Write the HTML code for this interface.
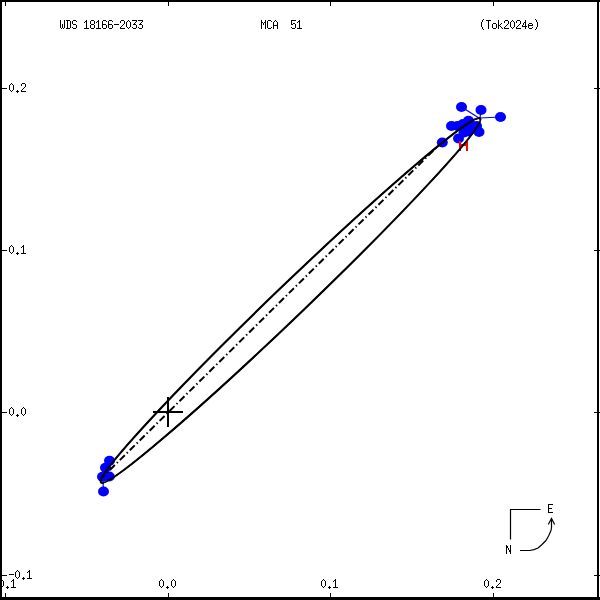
<!DOCTYPE html>
<html><head><meta charset="utf-8">
<style>
html,body{margin:0;padding:0;background:#fff;}
body{width:600px;height:600px;overflow:hidden;}
svg{display:block;}
</style></head><body>
<svg width="600" height="600" viewBox="0 0 600 600">
<rect x="0" y="0" width="600" height="600" fill="#fff"/>
<path fill="#000" shape-rendering="crispEdges" d="M0 0h600v2h-600z M0 0h2v600h-2z M597 0h2v600h-2z M0 597h600v3h-600z"/>
<path fill="#000" shape-rendering="crispEdges" d="M2 88h5v1h-5zM594 88h6v1h-6zM2 250h5v1h-5zM594 250h6v1h-6zM2 412h5v1h-5zM594 412h6v1h-6zM2 575h5v1h-5zM594 575h6v1h-6zM5 2h1v4h-1zM5 593h1v4h-1zM168 2h1v4h-1zM168 593h1v4h-1zM330 2h1v4h-1zM330 593h1v4h-1zM493 2h1v4h-1zM493 593h1v4h-1z"/>
<path fill="#000" shape-rendering="crispEdges" d="M60 20h1v1h-1zM64 20h1v1h-1zM60 21h1v1h-1zM64 21h1v1h-1zM60 22h1v1h-1zM64 22h1v1h-1zM60 23h1v1h-1zM64 23h1v1h-1zM60 24h1v1h-1zM62 24h1v1h-1zM64 24h1v1h-1zM60 25h1v1h-1zM62 25h1v1h-1zM64 25h1v1h-1zM60 26h1v1h-1zM62 26h1v1h-1zM64 26h1v1h-1zM60 27h1v1h-1zM62 27h1v1h-1zM64 27h1v1h-1zM61 28h1v1h-1zM63 28h1v1h-1zM66 20h4v1h-4zM67 21h1v1h-1zM70 21h1v1h-1zM67 22h1v1h-1zM70 22h1v1h-1zM67 23h1v1h-1zM70 23h1v1h-1zM67 24h1v1h-1zM70 24h1v1h-1zM67 25h1v1h-1zM70 25h1v1h-1zM67 26h1v1h-1zM70 26h1v1h-1zM67 27h1v1h-1zM70 27h1v1h-1zM66 28h4v1h-4zM73 20h3v1h-3zM72 21h1v1h-1zM76 21h1v1h-1zM72 22h1v1h-1zM72 23h1v1h-1zM73 24h3v1h-3zM76 25h1v1h-1zM76 26h1v1h-1zM72 27h1v1h-1zM76 27h1v1h-1zM73 28h3v1h-3zM86 20h1v1h-1zM85 21h2v1h-2zM84 22h1v1h-1zM86 22h1v1h-1zM86 23h1v1h-1zM86 24h1v1h-1zM86 25h1v1h-1zM86 26h1v1h-1zM86 27h1v1h-1zM84 28h5v1h-5zM91 20h3v1h-3zM90 21h1v1h-1zM94 21h1v1h-1zM90 22h1v1h-1zM94 22h1v1h-1zM90 23h1v1h-1zM94 23h1v1h-1zM91 24h3v1h-3zM90 25h1v1h-1zM94 25h1v1h-1zM90 26h1v1h-1zM94 26h1v1h-1zM90 27h1v1h-1zM94 27h1v1h-1zM91 28h3v1h-3zM98 20h1v1h-1zM97 21h2v1h-2zM96 22h1v1h-1zM98 22h1v1h-1zM98 23h1v1h-1zM98 24h1v1h-1zM98 25h1v1h-1zM98 26h1v1h-1zM98 27h1v1h-1zM96 28h5v1h-5zM103 20h3v1h-3zM102 21h1v1h-1zM106 21h1v1h-1zM102 22h1v1h-1zM102 23h1v1h-1zM102 24h4v1h-4zM102 25h1v1h-1zM106 25h1v1h-1zM102 26h1v1h-1zM106 26h1v1h-1zM102 27h1v1h-1zM106 27h1v1h-1zM103 28h3v1h-3zM109 20h3v1h-3zM108 21h1v1h-1zM112 21h1v1h-1zM108 22h1v1h-1zM108 23h1v1h-1zM108 24h4v1h-4zM108 25h1v1h-1zM112 25h1v1h-1zM108 26h1v1h-1zM112 26h1v1h-1zM108 27h1v1h-1zM112 27h1v1h-1zM109 28h3v1h-3zM114 24h5v1h-5zM121 20h3v1h-3zM120 21h1v1h-1zM124 21h1v1h-1zM120 22h1v1h-1zM124 22h1v1h-1zM124 23h1v1h-1zM123 24h1v1h-1zM122 25h1v1h-1zM121 26h1v1h-1zM120 27h1v1h-1zM120 28h5v1h-5zM128 20h1v1h-1zM127 21h1v1h-1zM129 21h1v1h-1zM126 22h1v1h-1zM130 22h1v1h-1zM126 23h1v1h-1zM130 23h1v1h-1zM126 24h1v1h-1zM130 24h1v1h-1zM126 25h1v1h-1zM130 25h1v1h-1zM126 26h1v1h-1zM130 26h1v1h-1zM127 27h1v1h-1zM129 27h1v1h-1zM128 28h1v1h-1zM132 20h5v1h-5zM136 21h1v1h-1zM135 22h1v1h-1zM134 23h1v1h-1zM133 24h3v1h-3zM136 25h1v1h-1zM136 26h1v1h-1zM132 27h1v1h-1zM136 27h1v1h-1zM133 28h3v1h-3zM138 20h5v1h-5zM142 21h1v1h-1zM141 22h1v1h-1zM140 23h1v1h-1zM139 24h3v1h-3zM142 25h1v1h-1zM142 26h1v1h-1zM138 27h1v1h-1zM142 27h1v1h-1zM139 28h3v1h-3zM261 20h1v1h-1zM265 20h1v1h-1zM261 21h1v1h-1zM265 21h1v1h-1zM261 22h2v1h-2zM264 22h2v1h-2zM261 23h1v1h-1zM263 23h1v1h-1zM265 23h1v1h-1zM261 24h1v1h-1zM263 24h1v1h-1zM265 24h1v1h-1zM261 25h1v1h-1zM265 25h1v1h-1zM261 26h1v1h-1zM265 26h1v1h-1zM261 27h1v1h-1zM265 27h1v1h-1zM261 28h1v1h-1zM265 28h1v1h-1zM268 20h3v1h-3zM267 21h1v1h-1zM271 21h1v1h-1zM267 22h1v1h-1zM267 23h1v1h-1zM267 24h1v1h-1zM267 25h1v1h-1zM267 26h1v1h-1zM267 27h1v1h-1zM271 27h1v1h-1zM268 28h3v1h-3zM275 20h1v1h-1zM274 21h1v1h-1zM276 21h1v1h-1zM273 22h1v1h-1zM277 22h1v1h-1zM273 23h1v1h-1zM277 23h1v1h-1zM273 24h1v1h-1zM277 24h1v1h-1zM273 25h5v1h-5zM273 26h1v1h-1zM277 26h1v1h-1zM273 27h1v1h-1zM277 27h1v1h-1zM273 28h1v1h-1zM277 28h1v1h-1zM291 20h5v1h-5zM291 21h1v1h-1zM291 22h1v1h-1zM291 23h1v1h-1zM293 23h2v1h-2zM291 24h2v1h-2zM295 24h1v1h-1zM295 25h1v1h-1zM295 26h1v1h-1zM291 27h1v1h-1zM295 27h1v1h-1zM292 28h3v1h-3zM299 20h1v1h-1zM298 21h2v1h-2zM297 22h1v1h-1zM299 22h1v1h-1zM299 23h1v1h-1zM299 24h1v1h-1zM299 25h1v1h-1zM299 26h1v1h-1zM299 27h1v1h-1zM297 28h5v1h-5zM483 19h1v1h-1zM482 20h1v1h-1zM482 21h1v1h-1zM481 22h1v1h-1zM481 23h1v1h-1zM481 24h1v1h-1zM481 25h1v1h-1zM481 26h1v1h-1zM482 27h1v1h-1zM482 28h1v1h-1zM483 29h1v1h-1zM486 20h5v1h-5zM488 21h1v1h-1zM488 22h1v1h-1zM488 23h1v1h-1zM488 24h1v1h-1zM488 25h1v1h-1zM488 26h1v1h-1zM488 27h1v1h-1zM488 28h1v1h-1zM493 23h3v1h-3zM492 24h1v1h-1zM496 24h1v1h-1zM492 25h1v1h-1zM496 25h1v1h-1zM492 26h1v1h-1zM496 26h1v1h-1zM492 27h1v1h-1zM496 27h1v1h-1zM493 28h3v1h-3zM498 20h1v1h-1zM498 21h1v1h-1zM498 22h1v1h-1zM498 23h1v1h-1zM501 23h1v1h-1zM498 24h1v1h-1zM500 24h1v1h-1zM498 25h2v1h-2zM498 26h1v1h-1zM500 26h1v1h-1zM498 27h1v1h-1zM501 27h1v1h-1zM498 28h1v1h-1zM502 28h1v1h-1zM505 20h3v1h-3zM504 21h1v1h-1zM508 21h1v1h-1zM504 22h1v1h-1zM508 22h1v1h-1zM508 23h1v1h-1zM507 24h1v1h-1zM506 25h1v1h-1zM505 26h1v1h-1zM504 27h1v1h-1zM504 28h5v1h-5zM512 20h1v1h-1zM511 21h1v1h-1zM513 21h1v1h-1zM510 22h1v1h-1zM514 22h1v1h-1zM510 23h1v1h-1zM514 23h1v1h-1zM510 24h1v1h-1zM514 24h1v1h-1zM510 25h1v1h-1zM514 25h1v1h-1zM510 26h1v1h-1zM514 26h1v1h-1zM511 27h1v1h-1zM513 27h1v1h-1zM512 28h1v1h-1zM517 20h3v1h-3zM516 21h1v1h-1zM520 21h1v1h-1zM516 22h1v1h-1zM520 22h1v1h-1zM520 23h1v1h-1zM519 24h1v1h-1zM518 25h1v1h-1zM517 26h1v1h-1zM516 27h1v1h-1zM516 28h5v1h-5zM525 20h1v1h-1zM525 21h1v1h-1zM524 22h2v1h-2zM523 23h1v1h-1zM525 23h1v1h-1zM523 24h1v1h-1zM525 24h1v1h-1zM522 25h1v1h-1zM525 25h1v1h-1zM522 26h5v1h-5zM525 27h1v1h-1zM525 28h1v1h-1zM529 23h3v1h-3zM528 24h1v1h-1zM532 24h1v1h-1zM528 25h5v1h-5zM528 26h1v1h-1zM528 27h1v1h-1zM532 27h1v1h-1zM529 28h3v1h-3zM535 19h1v1h-1zM536 20h1v1h-1zM536 21h1v1h-1zM537 22h1v1h-1zM537 23h1v1h-1zM537 24h1v1h-1zM537 25h1v1h-1zM537 26h1v1h-1zM536 27h1v1h-1zM536 28h1v1h-1zM535 29h1v1h-1zM11 83h1v1h-1zM10 84h1v1h-1zM12 84h1v1h-1zM9 85h1v1h-1zM13 85h1v1h-1zM9 86h1v1h-1zM13 86h1v1h-1zM9 87h1v1h-1zM13 87h1v1h-1zM9 88h1v1h-1zM13 88h1v1h-1zM9 89h1v1h-1zM13 89h1v1h-1zM10 90h1v1h-1zM12 90h1v1h-1zM11 91h1v1h-1zM17 90h1v1h-1zM16 91h3v1h-3zM17 92h1v1h-1zM22 83h3v1h-3zM21 84h1v1h-1zM25 84h1v1h-1zM21 85h1v1h-1zM25 85h1v1h-1zM25 86h1v1h-1zM24 87h1v1h-1zM23 88h1v1h-1zM22 89h1v1h-1zM21 90h1v1h-1zM21 91h5v1h-5zM11 245h1v1h-1zM10 246h1v1h-1zM12 246h1v1h-1zM9 247h1v1h-1zM13 247h1v1h-1zM9 248h1v1h-1zM13 248h1v1h-1zM9 249h1v1h-1zM13 249h1v1h-1zM9 250h1v1h-1zM13 250h1v1h-1zM9 251h1v1h-1zM13 251h1v1h-1zM10 252h1v1h-1zM12 252h1v1h-1zM11 253h1v1h-1zM17 252h1v1h-1zM16 253h3v1h-3zM17 254h1v1h-1zM23 245h1v1h-1zM22 246h2v1h-2zM21 247h1v1h-1zM23 247h1v1h-1zM23 248h1v1h-1zM23 249h1v1h-1zM23 250h1v1h-1zM23 251h1v1h-1zM23 252h1v1h-1zM21 253h5v1h-5zM11 407h1v1h-1zM10 408h1v1h-1zM12 408h1v1h-1zM9 409h1v1h-1zM13 409h1v1h-1zM9 410h1v1h-1zM13 410h1v1h-1zM9 411h1v1h-1zM13 411h1v1h-1zM9 412h1v1h-1zM13 412h1v1h-1zM9 413h1v1h-1zM13 413h1v1h-1zM10 414h1v1h-1zM12 414h1v1h-1zM11 415h1v1h-1zM17 414h1v1h-1zM16 415h3v1h-3zM17 416h1v1h-1zM23 407h1v1h-1zM22 408h1v1h-1zM24 408h1v1h-1zM21 409h1v1h-1zM25 409h1v1h-1zM21 410h1v1h-1zM25 410h1v1h-1zM21 411h1v1h-1zM25 411h1v1h-1zM21 412h1v1h-1zM25 412h1v1h-1zM21 413h1v1h-1zM25 413h1v1h-1zM22 414h1v1h-1zM24 414h1v1h-1zM23 415h1v1h-1zM9 574h5v1h-5zM17 570h1v1h-1zM16 571h1v1h-1zM18 571h1v1h-1zM15 572h1v1h-1zM19 572h1v1h-1zM15 573h1v1h-1zM19 573h1v1h-1zM15 574h1v1h-1zM19 574h1v1h-1zM15 575h1v1h-1zM19 575h1v1h-1zM15 576h1v1h-1zM19 576h1v1h-1zM16 577h1v1h-1zM18 577h1v1h-1zM17 578h1v1h-1zM23 577h1v1h-1zM22 578h3v1h-3zM23 579h1v1h-1zM29 570h1v1h-1zM28 571h2v1h-2zM27 572h1v1h-1zM29 572h1v1h-1zM29 573h1v1h-1zM29 574h1v1h-1zM29 575h1v1h-1zM29 576h1v1h-1zM29 577h1v1h-1zM27 578h5v1h-5zM-7 583h5v1h-5zM1 579h1v1h-1zM0 580h1v1h-1zM2 580h1v1h-1zM-1 581h1v1h-1zM3 581h1v1h-1zM-1 582h1v1h-1zM3 582h1v1h-1zM-1 583h1v1h-1zM3 583h1v1h-1zM-1 584h1v1h-1zM3 584h1v1h-1zM-1 585h1v1h-1zM3 585h1v1h-1zM0 586h1v1h-1zM2 586h1v1h-1zM1 587h1v1h-1zM7 586h1v1h-1zM6 587h3v1h-3zM7 588h1v1h-1zM13 579h1v1h-1zM12 580h2v1h-2zM11 581h1v1h-1zM13 581h1v1h-1zM13 582h1v1h-1zM13 583h1v1h-1zM13 584h1v1h-1zM13 585h1v1h-1zM13 586h1v1h-1zM11 587h5v1h-5zM161 579h1v1h-1zM160 580h1v1h-1zM162 580h1v1h-1zM159 581h1v1h-1zM163 581h1v1h-1zM159 582h1v1h-1zM163 582h1v1h-1zM159 583h1v1h-1zM163 583h1v1h-1zM159 584h1v1h-1zM163 584h1v1h-1zM159 585h1v1h-1zM163 585h1v1h-1zM160 586h1v1h-1zM162 586h1v1h-1zM161 587h1v1h-1zM167 586h1v1h-1zM166 587h3v1h-3zM167 588h1v1h-1zM173 579h1v1h-1zM172 580h1v1h-1zM174 580h1v1h-1zM171 581h1v1h-1zM175 581h1v1h-1zM171 582h1v1h-1zM175 582h1v1h-1zM171 583h1v1h-1zM175 583h1v1h-1zM171 584h1v1h-1zM175 584h1v1h-1zM171 585h1v1h-1zM175 585h1v1h-1zM172 586h1v1h-1zM174 586h1v1h-1zM173 587h1v1h-1zM323 579h1v1h-1zM322 580h1v1h-1zM324 580h1v1h-1zM321 581h1v1h-1zM325 581h1v1h-1zM321 582h1v1h-1zM325 582h1v1h-1zM321 583h1v1h-1zM325 583h1v1h-1zM321 584h1v1h-1zM325 584h1v1h-1zM321 585h1v1h-1zM325 585h1v1h-1zM322 586h1v1h-1zM324 586h1v1h-1zM323 587h1v1h-1zM329 586h1v1h-1zM328 587h3v1h-3zM329 588h1v1h-1zM335 579h1v1h-1zM334 580h2v1h-2zM333 581h1v1h-1zM335 581h1v1h-1zM335 582h1v1h-1zM335 583h1v1h-1zM335 584h1v1h-1zM335 585h1v1h-1zM335 586h1v1h-1zM333 587h5v1h-5zM486 579h1v1h-1zM485 580h1v1h-1zM487 580h1v1h-1zM484 581h1v1h-1zM488 581h1v1h-1zM484 582h1v1h-1zM488 582h1v1h-1zM484 583h1v1h-1zM488 583h1v1h-1zM484 584h1v1h-1zM488 584h1v1h-1zM484 585h1v1h-1zM488 585h1v1h-1zM485 586h1v1h-1zM487 586h1v1h-1zM486 587h1v1h-1zM492 586h1v1h-1zM491 587h3v1h-3zM492 588h1v1h-1zM497 579h3v1h-3zM496 580h1v1h-1zM500 580h1v1h-1zM496 581h1v1h-1zM500 581h1v1h-1zM500 582h1v1h-1zM499 583h1v1h-1zM498 584h1v1h-1zM497 585h1v1h-1zM496 586h1v1h-1zM496 587h5v1h-5zM548 504h5v1h-5zM548 505h1v1h-1zM548 506h1v1h-1zM548 507h1v1h-1zM548 508h4v1h-4zM548 509h1v1h-1zM548 510h1v1h-1zM548 511h1v1h-1zM548 512h5v1h-5zM506 545h1v1h-1zM510 545h1v1h-1zM506 546h2v1h-2zM510 546h1v1h-1zM506 547h2v1h-2zM510 547h1v1h-1zM506 548h1v1h-1zM508 548h1v1h-1zM510 548h1v1h-1zM506 549h1v1h-1zM508 549h1v1h-1zM510 549h1v1h-1zM506 550h1v1h-1zM509 550h2v1h-2zM506 551h1v1h-1zM509 551h2v1h-2zM506 552h1v1h-1zM510 552h1v1h-1zM506 553h1v1h-1zM510 553h1v1h-1z"/>
<g stroke="#0000ff" stroke-width="1.2">
<line x1="461.5" y1="107" x2="479" y2="118"/>
<line x1="481" y1="110" x2="480" y2="118"/>
<line x1="500.5" y1="117" x2="480" y2="118"/>
<line x1="103.5" y1="491.5" x2="103" y2="481"/>
</g>
<g fill="#0000ff">
<ellipse cx="461.5" cy="107" rx="5.5" ry="4.9"/>
<ellipse cx="481" cy="110" rx="5.5" ry="4.9"/>
<ellipse cx="500.5" cy="117" rx="5.5" ry="4.9"/>
<ellipse cx="442.3" cy="142.5" rx="5.5" ry="4.9"/>
<ellipse cx="451.5" cy="126" rx="5.5" ry="4.9"/>
<ellipse cx="457.5" cy="126" rx="5.5" ry="4.9"/>
<ellipse cx="463" cy="124" rx="5.5" ry="4.9"/>
<ellipse cx="468.5" cy="120.75" rx="5.5" ry="4.9"/>
<ellipse cx="472" cy="126" rx="5.5" ry="4.9"/>
<ellipse cx="476.5" cy="126" rx="5.5" ry="4.9"/>
<ellipse cx="479" cy="132" rx="5.5" ry="4.9"/>
<ellipse cx="458.5" cy="138.5" rx="5.5" ry="4.9"/>
<ellipse cx="464" cy="132.5" rx="5.5" ry="4.9"/>
<ellipse cx="468.5" cy="131.5" rx="5.5" ry="4.9"/>
<ellipse cx="109.5" cy="460.75" rx="5.5" ry="4.9"/>
<ellipse cx="105.5" cy="467.75" rx="5.5" ry="4.9"/>
<ellipse cx="102.5" cy="476.75" rx="5.5" ry="4.9"/>
<ellipse cx="109.3" cy="476.5" rx="5.5" ry="4.9"/>
<ellipse cx="103.5" cy="491.5" rx="5.5" ry="4.9"/>
</g>
<path fill="#ff0000" shape-rendering="crispEdges" d="M459 141h2v10h-2z M466 141h2v10h-2z M459 144h9v2h-9z"/>
<ellipse cx="290.12" cy="300.11" rx="262.8" ry="15.8" transform="rotate(-43.83 290.12 300.11)" fill="none" stroke="#000" stroke-width="1.0"/><ellipse cx="290.92" cy="300.11" rx="262.8" ry="15.8" transform="rotate(-43.83 290.92 300.11)" fill="none" stroke="#000" stroke-width="1.0"/><ellipse cx="290.12" cy="300.91" rx="262.8" ry="15.8" transform="rotate(-43.83 290.12 300.91)" fill="none" stroke="#000" stroke-width="1.0"/><ellipse cx="290.92" cy="300.91" rx="262.8" ry="15.8" transform="rotate(-43.83 290.92 300.91)" fill="none" stroke="#000" stroke-width="1.0"/>
<line x1="101.87" y1="477.84" x2="437.03" y2="146.93" stroke="#000" stroke-width="2" stroke-dasharray="7 2.8 1.4 2.78" stroke-dashoffset="2.76"/>
<path fill="#000" shape-rendering="crispEdges" d="M153 411h30v2h-30z M167 397h2v30h-2z"/>
<g stroke="#000" stroke-width="1.2" fill="none">
<polyline points="540.5,509.5 510.5,509.5 510.5,539.5"/>
<polyline stroke-linejoin="round" points="520,550.5 529.7,550.5 534,549.6 538,548 541.5,545 546,540.5 548.8,535.5 551,530.5 551.5,528 551.5,518.5"/>
<polyline points="548.3,524.5 551.5,518.5 554.7,524.5"/>
</g>
</svg>
</body></html>
